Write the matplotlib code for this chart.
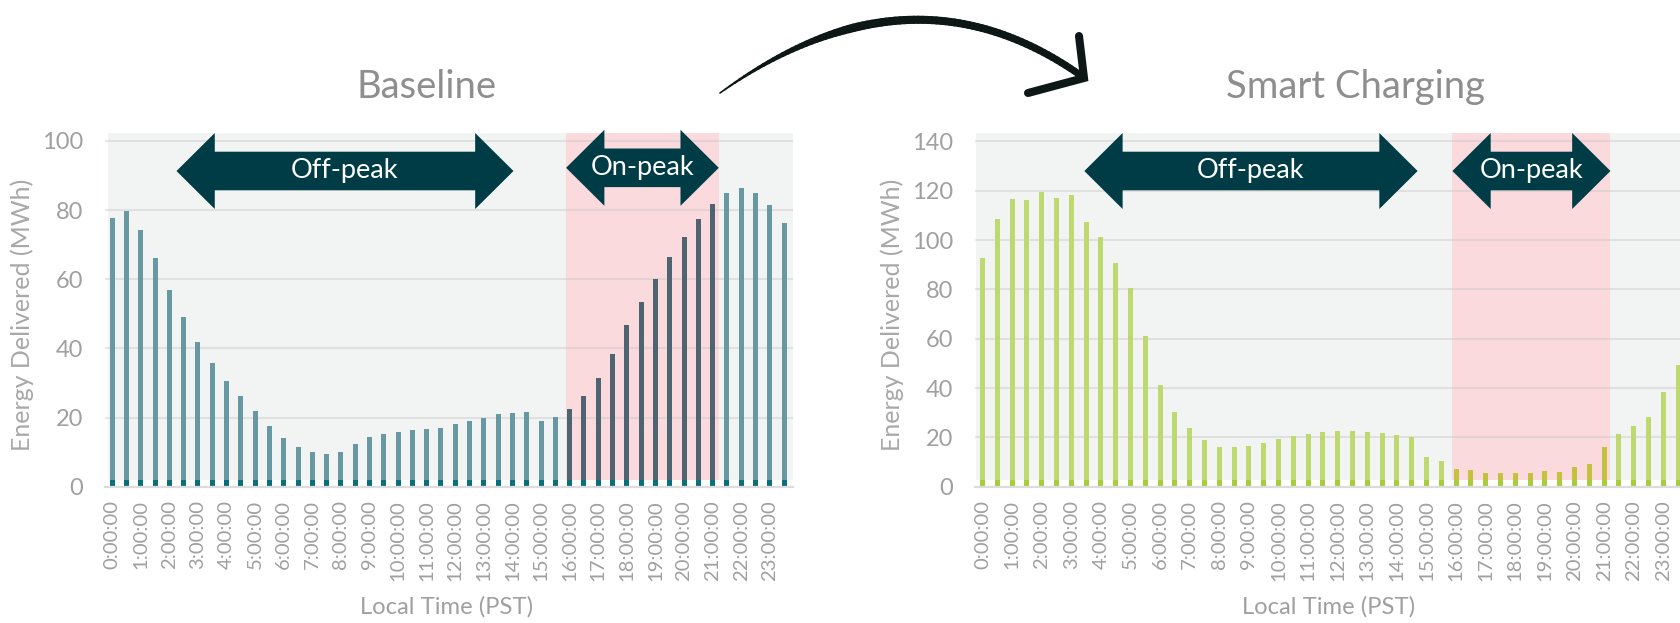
import matplotlib
matplotlib.use("Agg")
import matplotlib.pyplot as plt
import numpy as np
from matplotlib.patches import Rectangle, Polygon
from matplotlib.collections import LineCollection
from matplotlib.lines import Line2D
from matplotlib.transforms import blended_transform_factory

# ---------------- data ----------------
hour_labels = [f"{h}:00:00" for h in range(24)]
baseline_mwh = [77.6, 79.8, 74.2, 66.1, 57.0, 49.0, 41.8, 35.8, 30.5, 26.1, 21.9, 17.5,
                14.1, 11.5, 10.0, 9.4, 10.0, 12.3, 14.4, 15.3, 15.8, 16.3, 16.7, 17.1,
                18.0, 19.0, 19.9, 20.9, 21.2, 21.5, 18.9, 20.1, 22.4, 26.3, 31.4, 38.3,
                46.8, 53.3, 60.0, 66.4, 72.2, 77.3, 81.9, 85.0, 86.4, 84.9, 81.4, 76.4]
smart_mwh = [92.6, 108.5, 116.5, 116.2, 119.6, 117.2, 118.4, 107.3, 101.2, 90.5, 80.7, 61.2,
             41.1, 30.3, 23.6, 18.8, 16.1, 15.9, 16.7, 17.7, 19.2, 20.4, 21.2, 22.0,
             22.4, 22.4, 22.3, 21.6, 20.8, 20.0, 11.9, 10.3, 7.1, 6.6, 5.4, 5.4,
             5.7, 5.7, 6.2, 6.1, 7.8, 9.0, 15.9, 21.2, 24.5, 28.2, 38.2, 49.2]
on_peak_start_hour = 16
on_peak_end_hour = 21
titles = ["Baseline", "Smart Charging"]
ylabel = "Energy Delivered (MWh)"
xlabel = "Local Time (PST)"

# ---------------- style ----------------
W, H = 1681, 623
plt.rcParams['font.family'] = ["Lato", "DejaVu Sans"]
plt.rcParams['font.weight'] = "normal"
TXT_GRAY = "#a0a0a0"
BG = "#f2f4f3"
PINK = "#fadadd"
ARROW = "#003c46"

fig = plt.figure(figsize=(W / 100, H / 100), dpi=100)

def px2fig(x, y):
    return x / W, 1 - y / H

panels = [
    dict(vals=baseline_mwh, left=105, right=792.7, xmax=47.6, ytop=102.4, yticks=range(0, 101, 20),
         bar="#6899a2", peak="#4e6571", stub="#0b6e7c", bg_left=-0.3,
         title_x=427, ylab_x=22.5, xlab_fx=0.497,
         offpeak=(4.5, 28.07, 0.8918), onpeak_y=0.9008),
    dict(vals=smart_mwh, left=975.1, right=975.1 + 48.1 * 14.8, xmax=47.6, ytop=143.5, yticks=range(0, 141, 20),
         bar="#bdd970", peak="#c4c23d", stub="#a6cd3b", bg_left=-0.44,
         title_x=1356, ylab_x=892.5, xlab_fx=0.497,
         offpeak=(6.88, 29.4, 0.8918), onpeak_y=0.8918),
]

AX_TOP, AX_BOT = 132.7, 486.7
STUB_PX = 6.5

axes = []
for i, p in enumerate(panels):
    l, b = px2fig(p["left"], AX_BOT)
    ax = fig.add_axes([l, b, (p["right"] - p["left"]) / W, (AX_BOT - AX_TOP) / H])
    axes.append(ax)
    n = len(p["vals"])
    x = np.arange(n)
    ax.set_xlim(-0.5, p["xmax"])
    ax.set_ylim(0, p["ytop"])
    ax.set_facecolor("none")
    for s in ["top", "right", "left"]:
        ax.spines[s].set_visible(False)
    ax.spines["bottom"].set_color("#dcdcdc")
    ax.spines["bottom"].set_linewidth(1.6)

    stub_frac = STUB_PX / (AX_BOT - AX_TOP)
    trans = blended_transform_factory(ax.transData, ax.transAxes)
    ax.add_patch(Rectangle((p["bg_left"], stub_frac), p["xmax"] - p["bg_left"], 1 - stub_frac,
                           transform=trans, facecolor=BG, edgecolor="none", zorder=0))
    i0 = on_peak_start_hour * 2
    i1 = on_peak_end_hour * 2
    ax.add_patch(Rectangle((i0 - 0.25, stub_frac), (i1 + 0.43) - (i0 - 0.25), 1 - stub_frac,
                           transform=trans, facecolor=PINK, edgecolor="none", zorder=0.5))

    ax.set_axisbelow("line")
    ax.yaxis.grid(True, color="#c8c8c8", alpha=0.45, linewidth=1.5)
    ax.xaxis.grid(False)

    colors = [p["peak"] if i0 <= k <= i1 else p["bar"] for k in range(n)]
    vals = np.array(p["vals"])
    ax.bar(x, vals, width=0.35, color=colors, zorder=2)
    stub_h = stub_frac * p["ytop"]
    ax.bar(x, np.minimum(vals, stub_h), width=0.35, color=p["stub"], zorder=2.5)

    ax.set_xticks(np.arange(0, n, 2))
    ax.set_xticklabels(hour_labels, rotation=90)
    ax.tick_params(axis="x", length=0, pad=9.5, labelsize=14.6, labelcolor=TXT_GRAY)
    ax.set_yticks(list(p["yticks"]))
    ax.tick_params(axis="y", length=0, pad=16, labelsize=17, labelcolor=TXT_GRAY)

    ax.set_ylabel(ylabel, fontsize=18, color="#a8a8a8", rotation=90, va="center", ha="center")
    ax.yaxis.set_label_coords((p["ylab_x"] - p["left"]) / (p["right"] - p["left"]), 0.485)
    ax.set_xlabel(xlabel, fontsize=17.2, color="#a0a0a0", va="center", ha="center")
    ax.xaxis.set_label_coords(p["xlab_fx"], (AX_BOT - 607) / (AX_BOT - AX_TOP))

    fx, fy = px2fig(p["title_x"], 98.3)
    fig.text(fx, fy, titles[i], fontsize=27.5, color="#8e8e8e", ha="center", va="baseline")

inv = fig.transFigure.inverted()

def double_arrow(ax, x0, x1, yc, text):
    trans = blended_transform_factory(ax.transData, ax.transAxes)
    (px0, py), (px1, _) = trans.transform([(x0, yc), (x1, yc)])
    hl, hh, sh = 38.3, 38.0, 19.3
    pts = [(px0, py), (px0 + hl, py + hh), (px0 + hl, py + sh), (px1 - hl, py + sh),
           (px1 - hl, py + hh), (px1, py), (px1 - hl, py - hh), (px1 - hl, py - sh),
           (px0 + hl, py - sh), (px0 + hl, py - hh)]
    fpts = inv.transform(pts)
    fig.add_artist(Polygon(fpts, closed=True, facecolor=ARROW, edgecolor="none",
                           transform=fig.transFigure, zorder=5))
    cx, cy = inv.transform([((px0 + px1) / 2, py - 7.3)])[0]
    fig.text(cx, cy, text, fontsize=19.5, color="white", ha="center", va="baseline", zorder=6)

for ax, p in zip(axes, panels):
    x0, x1, y_off = p["offpeak"]
    double_arrow(ax, x0, x1, y_off, "Off-peak")
    i0 = on_peak_start_hour * 2
    i1 = on_peak_end_hour * 2
    double_arrow(ax, i0 - 0.25, i1 + 0.43, p["onpeak_y"], "On-peak")

# curved hand-drawn arrow between panels
P0 = np.array([720.0, 93.0])
C = np.array([912.0, -45.0])
P2 = np.array([1083.0, 77.0])
t = np.linspace(0, 1, 80)
curve = ((1 - t)[:, None] ** 2) * P0 + (2 * (1 - t) * t)[:, None] * C + (t[:, None] ** 2) * P2
fpts = np.column_stack([curve[:, 0] / W, 1 - curve[:, 1] / H])
segs = np.stack([fpts[:-1], fpts[1:]], axis=1)
tm = (t[:-1] + t[1:]) / 2
lw_px = np.where(tm < 0.35, 1.5 + (8.5 - 1.5) * tm / 0.35, 8.5 - 1.5 * (tm - 0.35) / 0.65)
lc = LineCollection(segs, linewidths=lw_px * 0.72, colors="#0d1716", capstyle="round",
                    transform=fig.transFigure, zorder=7)
fig.add_artist(lc)
head = np.array([[1079.0, 36.0], [1084.0, 78.0], [1028.0, 93.0]])
fig.add_artist(Line2D(head[:, 0] / W, 1 - head[:, 1] / H, color="#0d1716", linewidth=5.8,
                     solid_joinstyle="miter", solid_capstyle="round",
                     transform=fig.transFigure, zorder=7))

fig.savefig("out.png", dpi=100)
